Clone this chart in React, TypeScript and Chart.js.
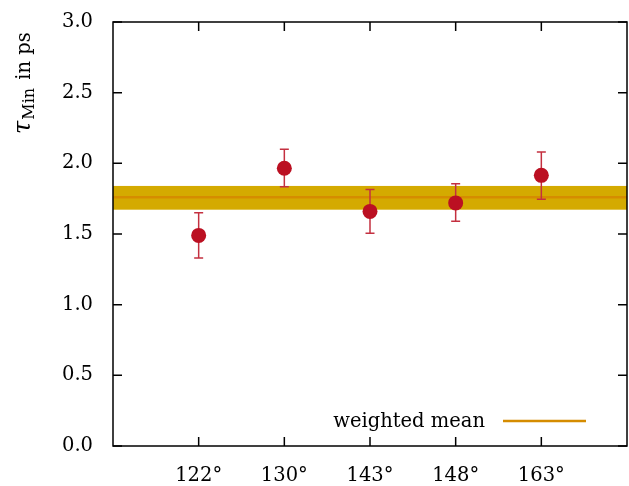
import React, { useEffect, useRef } from "react";
import { Chart, registerables } from "chart.js";

Chart.register(...registerables);

const categories = ["122°", "130°", "143°", "148°", "163°"];
const categoryPos = [1, 2, 3, 4, 5];
const tauValues = [1.49, 1.965, 1.66, 1.72, 1.915];
const errUpper = [1.65, 2.1, 1.815, 1.855, 2.08];
const errLower = [1.33, 1.835, 1.505, 1.59, 1.745];
const meanValue = 1.76;
const bandUpper = 1.84;
const bandLower = 1.672;
const yTicks = [0, 0.5, 1, 1.5, 2, 2.5, 3];

const FONT = "'DejaVu Serif', serif";
const FS = 19.5;

const decorPlugin = {
  id: "decor",
  beforeDatasetsDraw(chart: any) {
    const { ctx, chartArea, scales } = chart;
    const ys = scales.y;
    ctx.save();
    ctx.fillStyle = "#d4aa00";
    const yTop = ys.getPixelForValue(bandUpper);
    const yBot = ys.getPixelForValue(bandLower);
    ctx.fillRect(chartArea.left, yTop, chartArea.right - chartArea.left, yBot - yTop);
    ctx.restore();
  },
  afterDatasetsDraw(chart: any) {
    const { ctx, scales } = chart;
    const xs = scales.x;
    const ys = scales.y;
    ctx.save();
    ctx.strokeStyle = "#c43040";
    ctx.lineWidth = 1.5;
    for (let i = 0; i < categoryPos.length; i++) {
      const x = xs.getPixelForValue(categoryPos[i]);
      const y1 = ys.getPixelForValue(errUpper[i]);
      const y2 = ys.getPixelForValue(errLower[i]);
      ctx.beginPath();
      ctx.moveTo(x, y1);
      ctx.lineTo(x, y2);
      ctx.moveTo(x - 4.5, y1);
      ctx.lineTo(x + 4.5, y1);
      ctx.moveTo(x - 4.5, y2);
      ctx.lineTo(x + 4.5, y2);
      ctx.stroke();
    }
    ctx.fillStyle = "#bb1022";
    for (let i = 0; i < categoryPos.length; i++) {
      const x = xs.getPixelForValue(categoryPos[i]);
      const y = ys.getPixelForValue(tauValues[i]);
      ctx.beginPath();
      ctx.arc(x, y, 7.5, 0, Math.PI * 2);
      ctx.fill();
    }
    ctx.restore();
  },
  afterDraw(chart: any) {
    const { ctx, chartArea, scales } = chart;
    const xs = scales.x;
    const ys = scales.y;
    const { left, right, top, bottom } = chartArea;
    ctx.save();
    ctx.strokeStyle = "#000";
    ctx.lineWidth = 1.5;
    ctx.strokeRect(left, top, right - left, bottom - top);
    ctx.beginPath();
    for (const p of categoryPos) {
      const x = xs.getPixelForValue(p);
      ctx.moveTo(x, bottom);
      ctx.lineTo(x, bottom - 9);
      ctx.moveTo(x, top);
      ctx.lineTo(x, top + 9);
    }
    for (const t of yTicks) {
      const y = ys.getPixelForValue(t);
      ctx.moveTo(left, y);
      ctx.lineTo(left + 9, y);
      ctx.moveTo(right, y);
      ctx.lineTo(right - 9, y);
    }
    ctx.stroke();

    // legend
    ctx.fillStyle = "#000";
    ctx.font = `${FS}px ${FONT}`;
    ctx.textAlign = "right";
    ctx.textBaseline = "alphabetic";
    ctx.fillText("weighted mean", left + 372, bottom - 19);
    ctx.strokeStyle = "#d58c00";
    ctx.lineWidth = 2.5;
    ctx.beginPath();
    ctx.moveTo(left + 390, bottom - 25);
    ctx.lineTo(left + 473, bottom - 25);
    ctx.stroke();

    // y-axis title
    ctx.translate(30, 134);
    ctx.rotate(-Math.PI / 2);
    ctx.textAlign = "left";
    ctx.font = `italic 24px ${FONT}`;
    ctx.fillText("τ", 0, 0);
    let w = ctx.measureText("τ").width;
    ctx.font = `16px ${FONT}`;
    ctx.fillText("Min", w + 1, 4);
    w += 1 + ctx.measureText("Min").width;
    ctx.font = `${FS}px ${FONT}`;
    ctx.fillText(" in ps", w + 2, 0);
    ctx.restore();
  },
};

export default function App() {
  const ref = useRef<HTMLCanvasElement>(null);
  useEffect(() => {
    if (!ref.current) return;
    const chart = new Chart(ref.current, {
      type: "scatter",
      data: {
        datasets: [
          {
            label: "weighted mean",
            data: [
              { x: 0, y: meanValue },
              { x: 6, y: meanValue },
            ],
            showLine: true,
            borderColor: "#d58c00",
            borderWidth: 2.5,
            pointRadius: 0,
          },
        ],
      },
      options: {
        responsive: false,
        animation: false,
        layout: { padding: { top: 22, right: 2, left: 0, bottom: 0 } },
        plugins: { legend: { display: false }, tooltip: { enabled: false } },
        scales: {
          x: {
            type: "linear",
            min: 0,
            max: 6,
            afterBuildTicks: (s: any) => {
              s.ticks = categoryPos.map((v) => ({ value: v }));
            },
            afterFit: (s: any) => {
              s.height = 40;
              s.paddingLeft = 0;
              s.paddingRight = 0;
            },
            grid: { display: false, drawTicks: false },
            border: { display: false },
            ticks: {
              color: "#000",
              font: { family: FONT, size: FS },
              padding: 18,
              maxRotation: 0,
              autoSkip: false,
              callback: (v: any) => {
                const i = categoryPos.indexOf(Number(v));
                return i >= 0 ? categories[i] : "";
              },
            },
          },
          y: {
            min: 0,
            max: 3,
            afterBuildTicks: (s: any) => {
              s.ticks = yTicks.map((v) => ({ value: v }));
            },
            afterFit: (s: any) => {
              s.width = 113;
              s.paddingTop = 0;
              s.paddingBottom = 0;
            },
            grid: { display: false, drawTicks: false },
            border: { display: false },
            ticks: {
              color: "#000",
              font: { family: FONT, size: FS },
              padding: 20,
              callback: (v: any) => Number(v).toFixed(1),
            },
          },
        },
      },
      plugins: [decorPlugin],
    });
    return () => chart.destroy();
  }, []);
  return (
    <div style={{ position: "fixed", left: 0, top: 0, width: 629, height: 486, background: "#fff" }}>
      <canvas ref={ref} width={629} height={486} />
    </div>
  );
}
